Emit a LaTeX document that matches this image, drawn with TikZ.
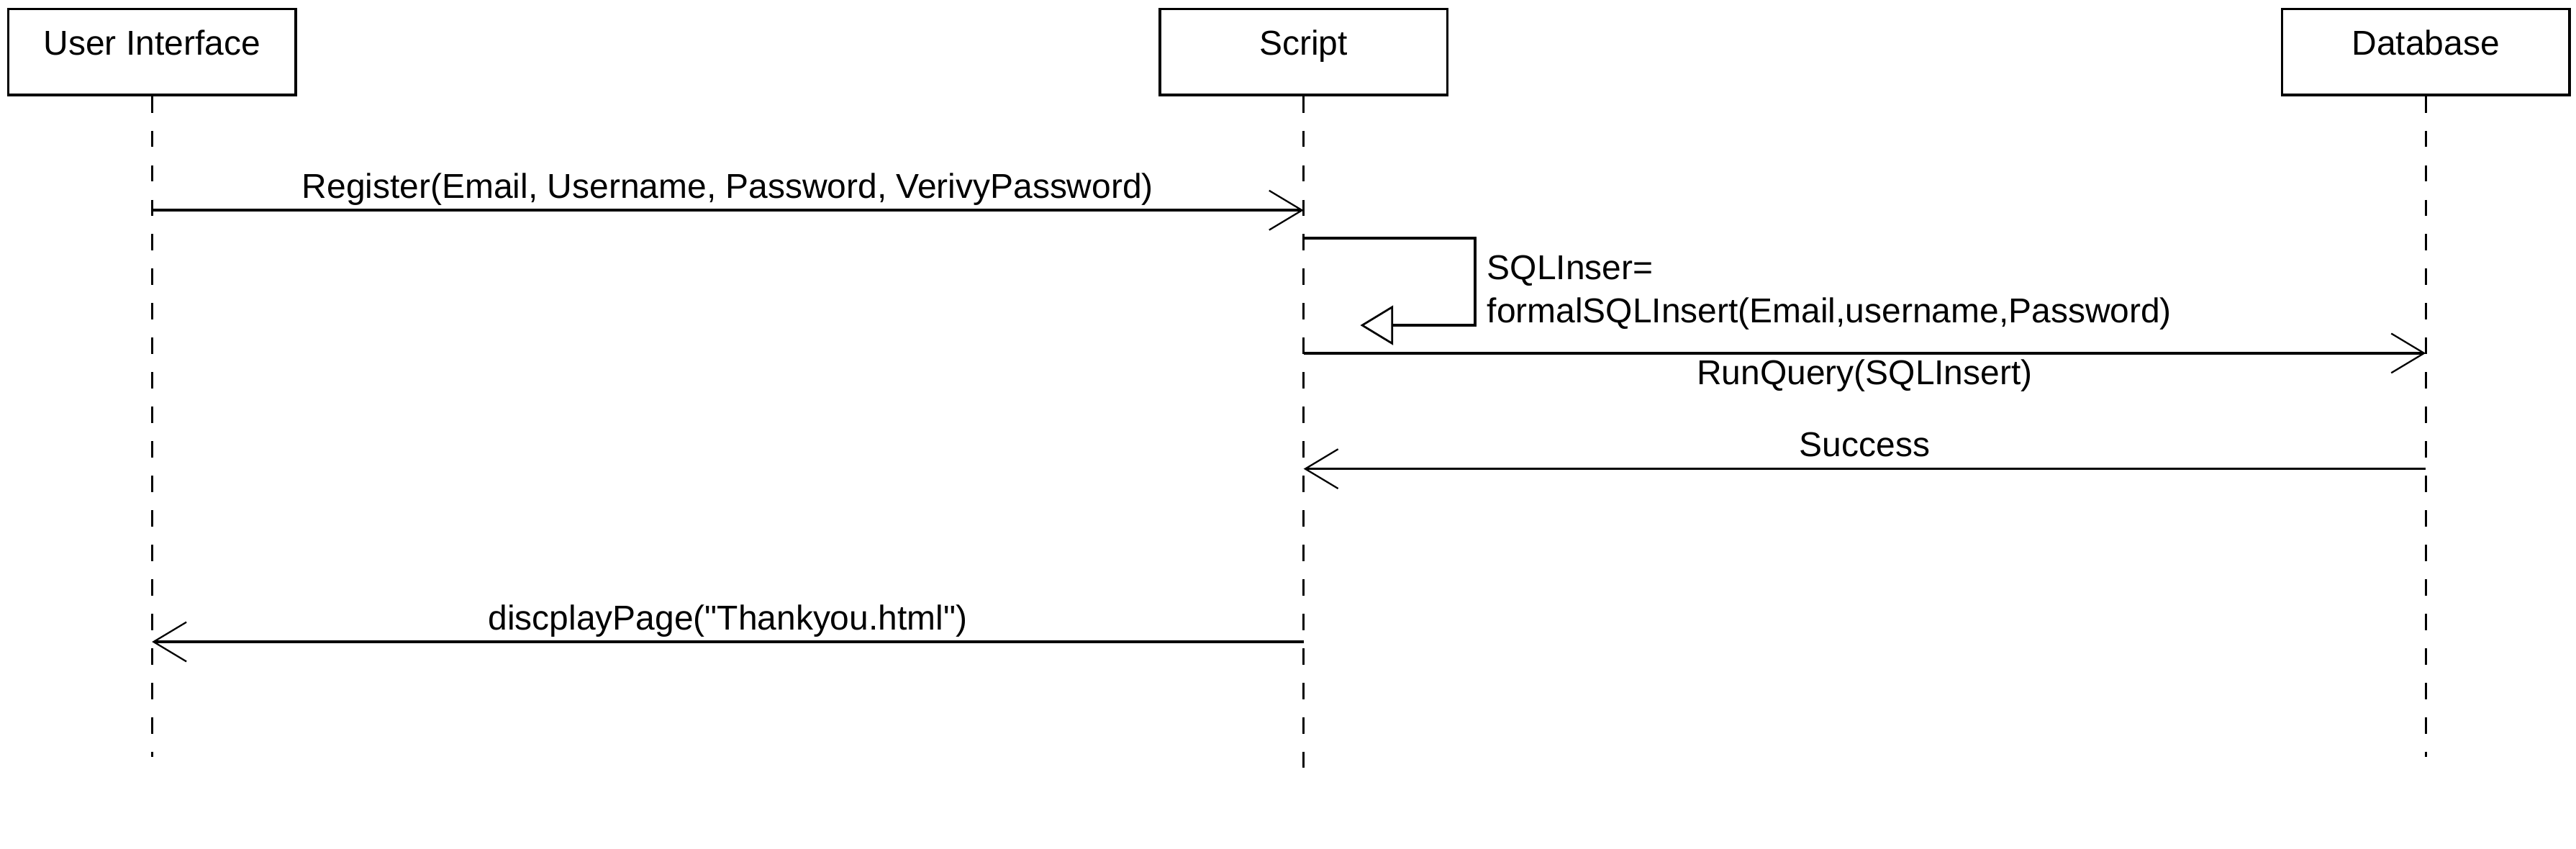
\documentclass[tikz,border=0pt]{standalone}
\usepackage{fontspec}
\setmainfont{Liberation Sans}
\usetikzlibrary{arrows.meta}

\begin{document}
\begin{tikzpicture}[x=1pt,y=-1pt,
	font=\fontsize{21}{26.5}\selectfont,
	actor/.style={draw,line width=1.5pt,minimum width=175pt,minimum height=52.4pt,
		text height=15.8pt,text depth=12pt,inner sep=0pt},
	life/.style={line width=1.2pt,dash pattern=on 10pt off 11pt},
	msg/.style={line width=1.6pt,-{Straight Barb[length=20pt,width=24pt,line width=1pt]}},
	self/.style={line width=1.6pt,-{Triangle[open,length=20pt,width=24pt,line width=1.2pt]}},
	lbl/.style={text height=16pt,text depth=5pt,inner sep=0pt}]
	\useasboundingbox (0,0) rectangle (1568,516.8);
	% lifelines
	\node[actor] (ui) at (92.5,31.6) {User Interface};
	\node[actor] (script) at (793.5,31.6) {Script};
	\node[actor] (db) at (1476.5,31.6) {Database};
	\coordinate (ui end) at (ui.south |- 0,460.6);
	\coordinate (script end) at (script.south |- 0,467.4);
	\coordinate (db end) at (db.south |- 0,460.6);
	\draw[life] (ui.south)--(ui end);
	\draw[life] (script.south)--(script end);
	\draw[life] (db.south)--(db end);
	% messages
	\draw[msg] (ui |- 0,128)--node[lbl,above=1.5pt]
		{Register(Email, Username, Password, VerivyPassword)}(script |- 0,128);
	\draw[self] (script |- 0,145) -| (898,198) -- ++(-70,0);
	\node[anchor=base west,align=left,inner sep=0pt] (sqlnote) at (905,196.5)
		{SQLInser=\\formalSQLInsert(Email,username,Password)};
	\draw[msg] (script |- 0,215)--node[lbl,below=2.5pt]{RunQuery(SQLInsert)}(db |- 0,215);
	\draw[msg] (db |- 0,285.4)--node[lbl,above=1.5pt]{Success}(script |- 0,285.4);
	\draw[msg] (script |- 0,390.7)--node[lbl,above=1.5pt]
		{discplayPage(\textquotedbl Thankyou.html\textquotedbl)}(ui |- 0,390.7);
\end{tikzpicture}
\end{document}
